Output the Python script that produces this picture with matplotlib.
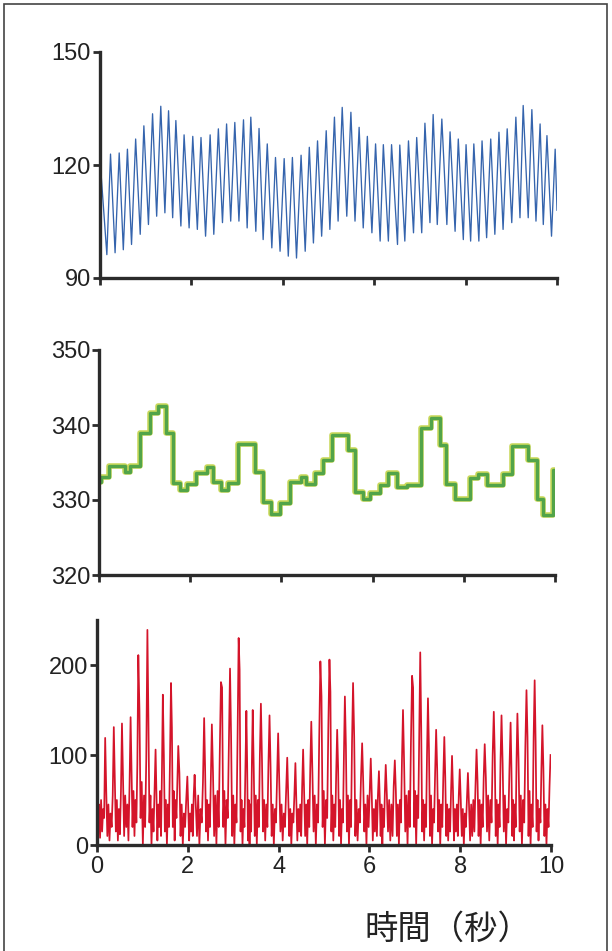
import matplotlib
matplotlib.use('Agg')
import matplotlib.pyplot as plt
from matplotlib.patches import Rectangle

# ---------------- data ----------------
x_ticks = [0, 2, 4, 6, 8, 10]

# Panel 1: arterial pressure (beat-by-beat troughs and peaks)
bp_start = 121.6
bp_end = 108.0
bp_trough_t = [0.15, 0.33, 0.51, 0.69, 0.88, 1.06, 1.24, 1.42, 1.59, 1.77,
               1.95, 2.13, 2.31, 2.49, 2.68, 2.86, 3.04, 3.22, 3.41, 3.57,
               3.76, 3.94, 4.12, 4.30, 4.49, 4.67, 4.85, 5.03, 5.21, 5.40,
               5.58, 5.76, 5.95, 6.13, 6.31, 6.51, 6.67, 6.86, 7.04, 7.22,
               7.38, 7.59, 7.77, 7.95, 8.11, 8.29, 8.46, 8.64, 8.82, 9.01,
               9.19, 9.37, 9.54, 9.70, 9.88]
bp_dia = [96.2, 96.7, 97.5, 98.9, 101.6, 104.2, 106.4, 107.3, 106.0, 103.8,
          103.3, 102.9, 101.1, 101.6, 104.7, 105.1, 105.1, 103.3, 102.4, 100.2,
          98.0, 97.1, 95.8, 95.3, 97.1, 99.3, 101.1, 102.9, 105.1, 106.4,
          105.1, 103.3, 102.0, 99.8, 99.8, 98.9, 99.8, 102.0, 102.0, 104.7,
          104.2, 104.2, 102.4, 100.2, 99.8, 99.8, 100.7, 101.6, 102.9, 104.7,
          106.0, 106.0, 105.1, 104.2, 101.1]
bp_peak_t = [0.23, 0.42, 0.60, 0.78, 0.96, 1.15, 1.33, 1.50, 1.66, 1.84,
             2.03, 2.21, 2.41, 2.59, 2.77, 2.95, 3.14, 3.30, 3.48, 3.66,
             3.84, 4.03, 4.21, 4.40, 4.58, 4.76, 4.95, 5.13, 5.30, 5.49,
             5.67, 5.85, 6.03, 6.20, 6.38, 6.56, 6.75, 6.93, 7.11, 7.29,
             7.48, 7.66, 7.84, 8.01, 8.18, 8.36, 8.55, 8.73, 8.91, 9.10,
             9.26, 9.45, 9.63, 9.78, 9.96]
bp_sys = [122.9, 123.2, 124.2, 126.9, 130.4, 133.6, 135.6, 134.4, 131.8, 128.0,
          127.6, 127.3, 128.0, 129.6, 130.9, 131.3, 132.0, 132.7, 129.7, 125.6,
          122.0, 121.7, 122.0, 122.6, 124.7, 126.4, 129.1, 132.7, 135.3, 134.0,
          130.0, 127.6, 125.6, 125.4, 125.4, 125.3, 126.4, 127.3, 131.1, 133.4,
          132.2, 128.8, 126.9, 125.4, 125.6, 126.4, 126.9, 128.7, 129.6, 132.7,
          135.8, 134.7, 130.9, 127.8, 124.2]

# Panel 2: heart rate (step starts and levels)
hr_t = [0.00, 0.05, 0.23, 0.56, 0.67, 0.89, 1.11, 1.29, 1.48, 1.62,
        1.77, 1.92, 2.13, 2.36, 2.50, 2.68, 2.83, 3.05, 3.42, 3.60,
        3.78, 3.96, 4.18, 4.42, 4.55, 4.73, 4.92, 5.10, 5.46, 5.61,
        5.79, 5.94, 6.16, 6.34, 6.53, 6.75, 7.07, 7.29, 7.48, 7.62,
        7.81, 8.13, 8.32, 8.50, 8.87, 9.05, 9.41, 9.60, 9.74, 9.96]
hr_val = [332.4, 333.1, 334.5, 333.8, 334.5, 338.9, 341.6, 342.5, 339.0, 332.3,
          331.3, 332.1, 333.6, 334.4, 332.4, 331.3, 332.3, 337.5, 333.8, 329.8,
          328.2, 329.6, 332.4, 333.1, 332.1, 333.6, 335.3, 338.7, 336.7, 331.1,
          330.2, 330.9, 332.0, 333.6, 331.7, 332.0, 339.6, 340.9, 337.3, 332.2,
          330.2, 332.9, 333.5, 332.0, 333.5, 337.2, 335.3, 330.2, 328.0, 334.0]

# Panel 3: nerve activity (burst peaks and the samples between them)
sna_start = 78
sna_peak_t = [0.18, 0.37, 0.55, 0.74, 0.91, 1.11, 1.29, 1.45, 1.63, 1.79,
              1.99, 2.15, 2.36, 2.53, 2.73, 2.93, 3.12, 3.29, 3.43, 3.61,
              3.80, 3.99, 4.19, 4.37, 4.54, 4.72, 4.92, 5.12, 5.29, 5.46,
              5.64, 5.84, 6.03, 6.21, 6.36, 6.56, 6.74, 6.94, 7.12, 7.29,
              7.47, 7.65, 7.82, 7.99, 8.17, 8.36, 8.54, 8.74, 8.91, 9.11,
              9.26, 9.46, 9.64, 9.81, 9.99]
sna_peak = [119, 131, 135, 142, 211, 239, 106, 167, 180, 110,
            76, 78, 141, 134, 181, 196, 230, 149, 150, 157,
            144, 124, 97, 91, 106, 137, 204, 206, 128, 165,
            180, 113, 96, 82, 89, 94, 150, 188, 214, 163,
            128, 120, 99, 84, 80, 106, 112, 148, 144, 136,
            146, 172, 183, 133, 100]
sna_between = [
    [20, 45, 8, 50, 15, 40, 30],
    [60, 10, 45, 5, 35, 20, 55],
    [70, 15, 50, 5, 40, 12, 60],
    [75, 10, 55, 20, 45, 5, 65],
    [80, 20, 60, 10, 50, 25, 90],
    [150, 30, 70, 0, 55, 20, 95],
    [140, 25, 55, 0, 40, 15, 60],
    [55, 5, 45, 20, 60, 10, 80],
    [100, 15, 50, 0, 45, 20, 95],
    [130, 20, 60, 5, 50, 30, 70],
    [80, 10, 45, 0, 35, 20, 50],
    [40, 5, 35, 15, 45, 10, 55],
    [45, 10, 55, 0, 40, 25, 70],
    [85, 15, 50, 5, 45, 20, 75],
    [80, 10, 55, 0, 60, 20, 105],
    [175, 20, 60, 0, 50, 30, 110],
    [120, 10, 55, 0, 45, 25, 120],
    [195, 15, 50, 0, 40, 20, 85],
    [90, 5, 50, 0, 45, 15, 95],
    [85, 10, 55, 0, 50, 20, 100],
    [95, 15, 50, 5, 45, 20, 90],
    [85, 10, 45, 0, 40, 25, 75],
    [70, 15, 45, 5, 35, 20, 60],
    [55, 10, 40, 0, 35, 25, 55],
    [50, 5, 40, 15, 45, 10, 65],
    [60, 10, 45, 0, 50, 20, 85],
    [80, 15, 55, 0, 45, 25, 120],
    [165, 20, 60, 0, 50, 30, 130],
    [170, 15, 55, 5, 45, 20, 80],
    [85, 10, 50, 0, 40, 25, 100],
    [110, 15, 55, 0, 50, 20, 115],
    [120, 10, 50, 5, 40, 25, 75],
    [70, 15, 45, 0, 55, 20, 60],
    [55, 5, 40, 15, 50, 10, 55],
    [50, 10, 45, 0, 40, 20, 60],
    [55, 15, 50, 5, 45, 10, 65],
    [60, 10, 45, 0, 50, 25, 95],
    [90, 15, 55, 0, 60, 20, 115],
    [175, 20, 60, 0, 55, 30, 125],
    [130, 15, 50, 5, 45, 20, 100],
    [105, 10, 55, 0, 40, 25, 80],
    [85, 15, 50, 0, 45, 20, 75],
    [75, 10, 45, 5, 40, 15, 60],
    [60, 5, 40, 15, 45, 10, 55],
    [50, 10, 40, 0, 35, 20, 50],
    [45, 5, 45, 10, 50, 15, 65],
    [70, 10, 50, 0, 45, 20, 75],
    [75, 15, 55, 5, 50, 25, 100],
    [100, 10, 50, 0, 45, 20, 95],
    [90, 15, 55, 0, 40, 25, 85],
    [85, 10, 50, 5, 45, 20, 95],
    [95, 15, 55, 0, 50, 25, 110],
    [120, 10, 60, 0, 45, 20, 120],
    [115, 15, 50, 5, 40, 25, 85],
    [85, 10, 45, 0, 40, 20, 65],
]

xlabel_text = "時間（秒）"

# ---------------- figure ----------------
W, H = 612, 951
fig = plt.figure(figsize=(W / 100, H / 100), dpi=100)
fig.patch.set_facecolor('white')

def px_axes(x0, x1, ytop, ybot):
    return fig.add_axes([x0 / W, 1 - ybot / H, (x1 - x0) / W, (ybot - ytop) / H])

ax1 = px_axes(100, 557, 52, 278)
ax2 = px_axes(99, 555, 350, 575)
ax3 = px_axes(97, 551, 620, 845)

spine_c = '#2b2b2b'
tick_font = 'Liberation Sans'

def style(ax, ylim, yticks, show_x):
    ax.set_xlim(0, 10)
    ax.set_ylim(*ylim)
    ax.set_xticks(x_ticks)
    ax.set_yticks(yticks)
    for s in ['top', 'right']:
        ax.spines[s].set_visible(False)
    for s in ['left', 'bottom']:
        ax.spines[s].set_linewidth(2.4)
        ax.spines[s].set_color(spine_c)
        ax.spines[s].set_capstyle('projecting')
    ax.tick_params(direction='out', length=5, width=2.0, color=spine_c,
                   labelsize=17, labelcolor='#222222', pad=1.5)
    ax.tick_params(axis='x', pad=3)
    for lab in ax.get_xticklabels() + ax.get_yticklabels():
        lab.set_family(tick_font)
    if not show_x:
        ax.tick_params(axis='x', labelbottom=False)
    ax.set_facecolor('none')

# panel 1
bx = [0.0]
by = [bp_start]
for tt, d, tp, s in zip(bp_trough_t, bp_dia, bp_peak_t, bp_sys):
    bx += [tt, tp]
    by += [d, s]
bx.append(10.0)
by.append(bp_end)
ax1.plot(bx, by, color='#3564ad', lw=0.95)
style(ax1, (90, 150), [90, 120, 150], False)

# panel 2
ax2.step(hr_t + [10.0], hr_val + [hr_val[-1]], where='post',
         color='#c8d85a', lw=4.0)
ax2.step(hr_t + [10.0], hr_val + [hr_val[-1]], where='post',
         color='#52a449', lw=2.4)
style(ax2, (320, 350), [320, 330, 340, 350], False)

# panel 3
rx = [0.0]
ry = [sna_start]
prev = 0.0
for fill, tp, pk in zip(sna_between, sna_peak_t, sna_peak):
    n = len(fill)
    step = (tp - prev) / (n + 1)
    for k, v in enumerate(fill):
        rx.append(prev + step * (k + 1))
        ry.append(v)
    rx.append(tp)
    ry.append(pk)
    prev = tp
ax3.plot(rx, ry, color='#d4142a', lw=1.25)
style(ax3, (0, 250), [0, 100, 200], True)

# x label
fig.text(448 / W, 1 - 929 / H, xlabel_text, ha='center', va='center',
         fontsize=24, color='#222222',
         family=['Noto Sans CJK JP', 'DejaVu Sans'])

# scanned-page frame
fig.add_artist(Rectangle((4 / W, -0.02), (607 - 4) / W, (H - 4) / H + 0.02,
                         transform=fig.transFigure, fill=False,
                         lw=1.2, ec='#444444'))

fig.savefig('out.png', dpi=100, facecolor='white')
